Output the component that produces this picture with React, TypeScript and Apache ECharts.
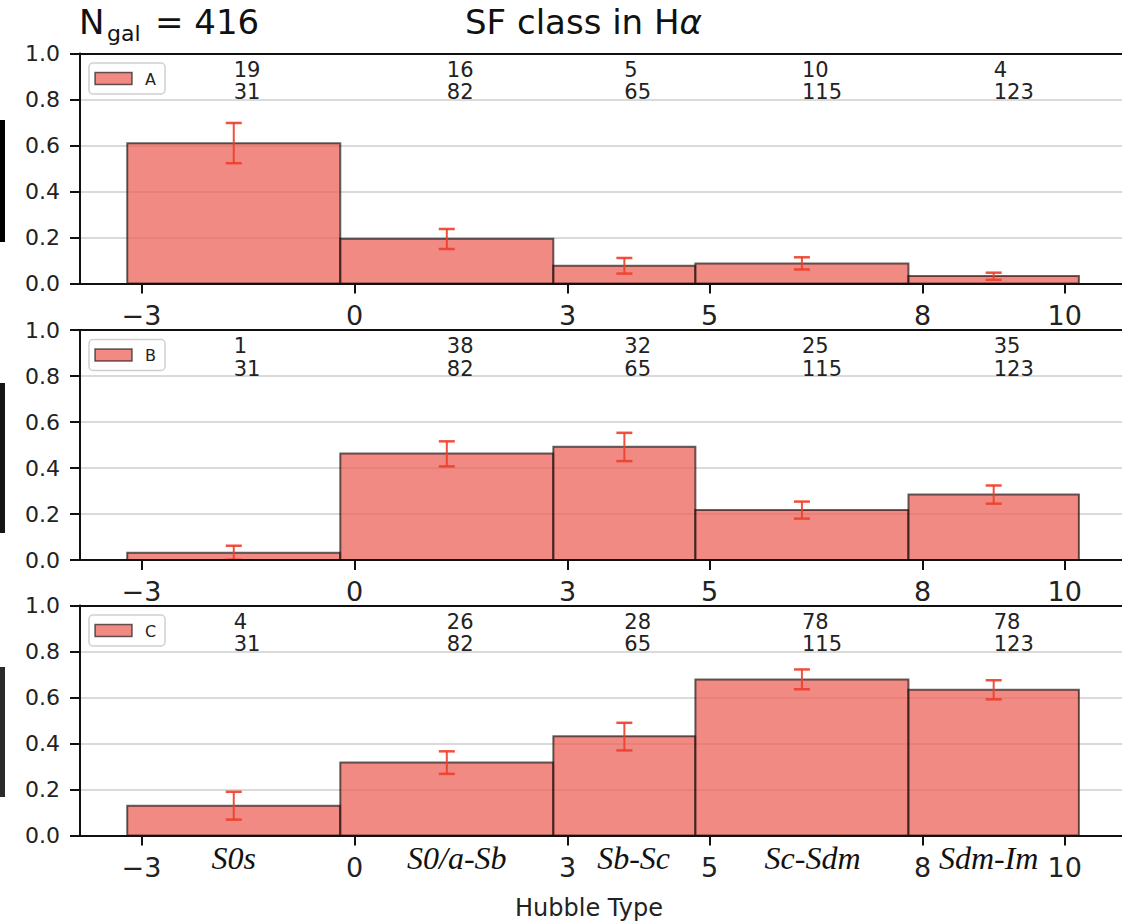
import React, { useEffect, useRef } from "react";
import * as echarts from "echarts";

// Hubble-type bin edges (data units) and tick values
const binEdges = [-3.2, -0.2, 2.8, 4.8, 7.8, 10.2];
const xTicks = [-3, 0, 3, 5, 8, 10];
const typeLabels = ["S0s", "S0/a-Sb", "Sb-Sc", "Sc-Sdm", "Sdm-Im"];
const typeLabelCenters = [-1.7, 1.44, 3.93, 6.45, 8.93];
const totals = [31, 82, 65, 115, 123];
const panelNames = ["A", "B", "C"];

const fracA = [0.61, 0.195, 0.077, 0.087, 0.033];
const loA = [0.523, 0.15, 0.043, 0.061, 0.016];
const hiA = [0.698, 0.237, 0.111, 0.114, 0.047];
const countA = [19, 16, 5, 10, 4];

const fracB = [0.032, 0.463, 0.492, 0.217, 0.285];
const loB = [0.001, 0.407, 0.43, 0.18, 0.245];
const hiB = [0.062, 0.516, 0.553, 0.254, 0.324];
const countB = [1, 38, 32, 25, 35];

const fracC = [0.129, 0.317, 0.431, 0.678, 0.634];
const loC = [0.069, 0.268, 0.37, 0.636, 0.592];
const hiC = [0.19, 0.366, 0.49, 0.722, 0.675];
const countC = [4, 26, 28, 78, 78];

const panels = [
  { frac: fracA, lo: loA, hi: hiA, count: countA },
  { frac: fracB, lo: loB, hi: hiB, count: countB },
  { frac: fracC, lo: loC, hi: hiC, count: countC },
];

const FONT = "DejaVu Sans";
const BAR_FILL = "rgba(235,99,88,0.75)";
const BAR_EDGE = "rgba(0,0,0,0.6)";
const ERR_COLOR = "rgba(238,62,42,0.9)";

const gridTops = [53.5, 330, 605.5];
const GRID_LEFT = 80;
const GRID_H = 230;
const X_MIN = -3.865;
const X_MAX = 11;
const PX_PER_UNIT = 71.02;

export default function App() {
  const ref = useRef<HTMLDivElement>(null);
  useEffect(() => {
    if (!ref.current) return;
    const chart = echarts.init(ref.current, null, { renderer: "svg" });

    const grids = gridTops.map((t) => ({
      left: GRID_LEFT,
      top: t,
      height: GRID_H,
      width: (X_MAX - X_MIN) * PX_PER_UNIT,
      outerBoundsMode: "none",
      containLabel: false,
      show: false,
    }));

    const xAxes: any[] = [];
    gridTops.forEach((_, i) => {
      xAxes.push({
        type: "value",
        gridIndex: i,
        min: X_MIN,
        max: X_MAX,
        axisLine: { show: true, onZero: false, lineStyle: { color: "#111", width: 2 } },
        axisTick: {
          show: true,
          customValues: xTicks,
          length: 10,
          lineStyle: { color: "#111", width: 2 },
        },
        axisLabel: {
          show: true,
          customValues: xTicks,
          fontSize: 27,
          fontFamily: FONT,
          color: "#222",
          margin: 18,
          formatter: (v: number) => (v < 0 ? "\u2212" + Math.abs(v) : String(v)),
        },
        splitLine: { show: false },
        z: 5,
      });
    });
    // top frame lines
    gridTops.forEach((_, i) => {
      xAxes.push({
        type: "value",
        gridIndex: i,
        position: "top",
        min: X_MIN,
        max: X_MAX,
        axisLine: { show: true, onZero: false, lineStyle: { color: "#111", width: 2 } },
        axisTick: { show: false },
        axisLabel: { show: false },
        splitLine: { show: false },
        z: 5,
      });
    });

    const yAxes = gridTops.map((_, i) => ({
      type: "value",
      gridIndex: i,
      min: 0,
      max: 1,
      interval: 0.2,
      axisLine: { show: true, onZero: false, lineStyle: { color: "#111", width: 2 } },
      axisTick: { show: true, length: 10, lineStyle: { color: "#111", width: 2 } },
      axisLabel: {
        fontSize: 22,
        fontFamily: FONT,
        color: "#222",
        margin: 20,
        formatter: (v: number) => v.toFixed(1),
      },
      splitLine: {
        show: true,
        showMinLine: false,
        showMaxLine: false,
        lineStyle: { color: "#dadada", width: 2 },
      },
    }));

    const series: any[] = panels.map((p, i) => ({
      type: "custom",
      xAxisIndex: i,
      yAxisIndex: i,
      name: panelNames[i],
      clip: false,
      z: 2,
      encode: { x: [0, 1], y: [2] },
      data: p.frac.map((v, k) => [
        binEdges[k],
        binEdges[k + 1],
        v,
        p.lo[k],
        p.hi[k],
        p.count[k],
        totals[k],
      ]),
      renderItem: (params: any, api: any) => {
        const x0 = api.value(0);
        const x1 = api.value(1);
        const v = api.value(2);
        const lo = api.value(3);
        const hi = api.value(4);
        const num = api.value(5);
        const den = api.value(6);
        const c = (x0 + x1) / 2;
        const pTop = api.coord([x0, v]);
        const pBot = api.coord([x1, 0]);
        const eHi = api.coord([c, hi]);
        const eLo = api.coord([c, lo]);
        const tPos = api.coord([c, 0.88]);
        const cap = 8;
        return {
          type: "group",
          children: [
            {
              type: "rect",
              shape: {
                x: pTop[0],
                y: pTop[1],
                width: pBot[0] - pTop[0],
                height: pBot[1] - pTop[1],
              },
              style: { fill: BAR_FILL, stroke: BAR_EDGE, lineWidth: 2 },
            },
            {
              type: "line",
              shape: { x1: eHi[0], y1: eHi[1], x2: eLo[0], y2: eLo[1] },
              style: { stroke: ERR_COLOR, lineWidth: 2 },
            },
            {
              type: "line",
              shape: { x1: eHi[0] - cap, y1: eHi[1], x2: eHi[0] + cap, y2: eHi[1] },
              style: { stroke: ERR_COLOR, lineWidth: 2.5 },
            },
            {
              type: "line",
              shape: { x1: eLo[0] - cap, y1: eLo[1], x2: eLo[0] + cap, y2: eLo[1] },
              style: { stroke: ERR_COLOR, lineWidth: 2.5 },
            },
            {
              type: "text",
              x: tPos[0],
              y: tPos[1],
              style: {
                text: num + "\n" + den,
                fill: "#222",
                fontSize: 21,
                lineHeight: 22.5,
                fontFamily: FONT,
                align: "left",
                verticalAlign: "middle",
              },
            },
          ],
        };
      },
    }));

    // Hubble type names under the bottom panel
    series.push({
      type: "custom",
      xAxisIndex: 2,
      yAxisIndex: 2,
      clip: false,
      encode: { x: [0] },
      data: typeLabelCenters.map((x, k) => [x, k]),
      renderItem: (params: any, api: any) => {
        const k = api.value(1);
        const pt = api.coord([api.value(0), 0]);
        return {
          type: "text",
          x: pt[0],
          y: pt[1] + 22,
          style: {
            text: typeLabels[k],
            fill: "#111",
            fontSize: 32,
            fontStyle: "italic",
            fontFamily: "Liberation Serif",
            align: "center",
            verticalAlign: "middle",
          },
        };
      },
    });

    const graphics: any[] = [
      { type: "rect", shape: { x: 0, y: 120, width: 5, height: 122 }, style: { fill: "#000" } },
      { type: "rect", shape: { x: 0, y: 383, width: 5, height: 150 }, style: { fill: "#151515" } },
      { type: "rect", shape: { x: 0, y: 667, width: 5, height: 130 }, style: { fill: "#2a2a2a" } },
      {
        type: "text",
        x: 79,
        y: 22,
        style: { text: "N", fontSize: 34, fontFamily: FONT, fill: "#111", verticalAlign: "middle" },
      },
      {
        type: "text",
        x: 107,
        y: 33,
        style: { text: "gal", fontSize: 22, fontFamily: FONT, fill: "#111", verticalAlign: "middle" },
      },
      {
        type: "text",
        x: 155,
        y: 22,
        style: { text: "= 416", fontSize: 34, fontFamily: FONT, fill: "#111", verticalAlign: "middle" },
      },
      {
        type: "text",
        x: 465,
        y: 22,
        style: {
          text: "SF class in H{a|\u03b1}",
          fontSize: 34,
          fontFamily: FONT,
          fill: "#111",
          verticalAlign: "middle",
          rich: { a: { fontSize: 34, fontFamily: FONT, fontStyle: "italic", fill: "#111" } },
        },
      },
      {
        type: "text",
        x: 589,
        y: 908,
        style: {
          text: "Hubble Type",
          fontSize: 24,
          fontFamily: FONT,
          fill: "#222",
          align: "center",
          verticalAlign: "middle",
        },
      },
    ];

    gridTops.forEach((t, i) => {
      graphics.push(
        {
          type: "rect",
          shape: { x: 89, y: t + 9.5, width: 76, height: 31, r: 4 },
          style: { fill: "rgba(255,255,255,0.8)", stroke: "#cfcfcf", lineWidth: 1.5 },
          z: 10,
        },
        {
          type: "rect",
          shape: { x: 95, y: t + 19, width: 37, height: 12 },
          style: { fill: BAR_FILL, stroke: BAR_EDGE, lineWidth: 1.5 },
          z: 11,
        },
        {
          type: "text",
          x: 145,
          y: t + 25.5,
          style: {
            text: panelNames[i],
            fontSize: 16,
            fontFamily: FONT,
            fill: "#222",
            verticalAlign: "middle",
          },
          z: 11,
        }
      );
    });

    chart.setOption({
      animation: false,
      backgroundColor: "#fff",
      grid: grids,
      xAxis: xAxes,
      yAxis: yAxes,
      series,
      graphic: graphics,
    });
    return () => chart.dispose();
  }, []);

  return (
    <div
      ref={ref}
      style={{ position: "absolute", left: 0, top: 0, width: 1122, height: 922 }}
    />
  );
}
